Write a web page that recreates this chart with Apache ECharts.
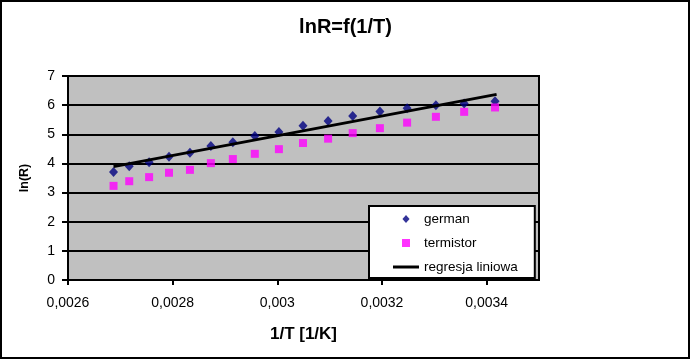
<!DOCTYPE html>
<html>
<head>
<meta charset="utf-8">
<script src="https://cdn.jsdelivr.net/npm/echarts@6/dist/echarts.min.js"></script>
<style>
html,body{margin:0;padding:0;background:#fff;}
#chart{width:691px;height:360px;}
</style>
</head>
<body>
<div id="chart"></div>
<script>
// 1/T [1/K]
var invT = [0.002687, 0.002717, 0.002755, 0.002793, 0.002833, 0.002873, 0.002915, 0.002957, 0.003003, 0.003049, 0.003097, 0.003144, 0.003196, 0.003248, 0.003303, 0.003357, 0.003416];
// ln(R) values
var german = [3.71, 3.90, 4.04, 4.23, 4.37, 4.60, 4.73, 4.94, 5.08, 5.29, 5.46, 5.63, 5.78, 5.89, 6.00, 6.06, 6.13];
var termistor = [3.23, 3.39, 3.53, 3.68, 3.78, 4.01, 4.15, 4.33, 4.49, 4.70, 4.85, 5.04, 5.21, 5.40, 5.60, 5.77, 5.92];
// regression line end points
var regX = [0.002687, 0.003419];
var regY = [3.89, 6.37];
var xTicks = ['0,0026', '0,0028', '0,003', '0,0032', '0,0034'];
var yTicks = ['0', '1', '2', '3', '4', '5', '6', '7'];
var seriesNames = ['german', 'termistor', 'regresja liniowa'];

function pairs(xs, ys) { return xs.map(function (x, i) { return [x, ys[i]]; }); }

var FONT = 'Liberation Sans, Arial, sans-serif';
var chart = echarts.init(document.getElementById('chart'));
chart.setOption({
  animation: false,
  backgroundColor: '#fff',
  title: {
    text: 'lnR=f(1/T)', left: 'center', top: 17, padding: 0,
    textStyle: { fontFamily: FONT, fontSize: 20, fontWeight: 'bold', color: '#000' }
  },
  graphic: [{
    type: 'rect', z: 100, silent: true,
    shape: { x: 1, y: 1, width: 688, height: 357 },
    style: { fill: 'none', stroke: '#000', lineWidth: 2 }
  }],
  grid: {
    left: 68, top: 76, right: 152, bottom: 80,
    show: true, backgroundColor: '#c0c0c0', borderColor: '#000', borderWidth: 2
  },
  legend: {
    orient: 'vertical', left: 369, top: 206,
    padding: [6, 17, 4, 24], itemGap: 10, itemWidth: 26, itemHeight: 8,
    symbolKeepAspect: true,
    backgroundColor: '#fff', borderColor: '#000', borderWidth: 2,
    textStyle: { fontFamily: FONT, fontSize: 13.5, color: '#000' },
    data: [
      { name: seriesNames[0], icon: 'path://M4,0L8,4.5L4,9L0,4.5Z', itemStyle: { color: '#000080' } },
      { name: seriesNames[1], icon: 'path://M0,0H8V8H0Z', itemStyle: { color: '#ff00ff' } },
      { name: seriesNames[2], icon: 'path://M0,0H26V3H0Z', itemStyle: { color: '#000', borderWidth: 0 } }
    ]
  },
  xAxis: {
    type: 'value', min: 0.0026, max: 0.0035, interval: 0.0002,
    name: '1/T [1/K]', nameLocation: 'middle', nameGap: 46,
    nameTextStyle: { fontFamily: FONT, fontSize: 17, fontWeight: 'bold', color: '#000' },
    axisLine: { show: true, lineStyle: { color: '#000', width: 2 } },
    axisTick: { show: true, inside: false, length: 5, lineStyle: { color: '#000', width: 2 } },
    axisLabel: {
      margin: 16, showMaxLabel: false, fontFamily: FONT, fontSize: 14, color: '#000',
      formatter: function (v) {
        var k = Math.round((v - 0.0026) / 0.0002);
        if (Math.abs(v - (0.0026 + k * 0.0002)) > 1e-7) return '';
        return xTicks[k] || '';
      }
    },
    splitLine: { show: false }
  },
  yAxis: {
    type: 'value', min: 0, max: 7, interval: 1,
    name: 'ln(R)', nameLocation: 'middle', nameGap: 37,
    nameTextStyle: { fontFamily: FONT, fontSize: 12.5, fontWeight: 'bold', color: '#000' },
    axisLine: { show: true, lineStyle: { color: '#000', width: 2 } },
    axisTick: { show: true, inside: false, length: 6, lineStyle: { color: '#000', width: 2 } },
    axisLabel: {
      margin: 13, fontFamily: FONT, fontSize: 14, color: '#000',
      formatter: function (v) { return yTicks[Math.round(v)]; }
    },
    splitLine: { show: true, lineStyle: { color: '#000', width: 2 } }
  },
  series: [
    {
      name: seriesNames[0], type: 'scatter', symbol: 'diamond', symbolSize: [9, 10],
      itemStyle: { color: '#000080' }, data: pairs(invT, german)
    },
    {
      name: seriesNames[1], type: 'scatter', symbol: 'rect', symbolSize: 8,
      itemStyle: { color: '#ff00ff' }, data: pairs(invT, termistor)
    },
    {
      name: seriesNames[2], type: 'line', symbol: 'none', showSymbol: false,
      lineStyle: { color: '#000', width: 3 }, itemStyle: { color: '#000' },
      data: pairs(regX, regY)
    }
  ]
});
</script>
</body>
</html>
